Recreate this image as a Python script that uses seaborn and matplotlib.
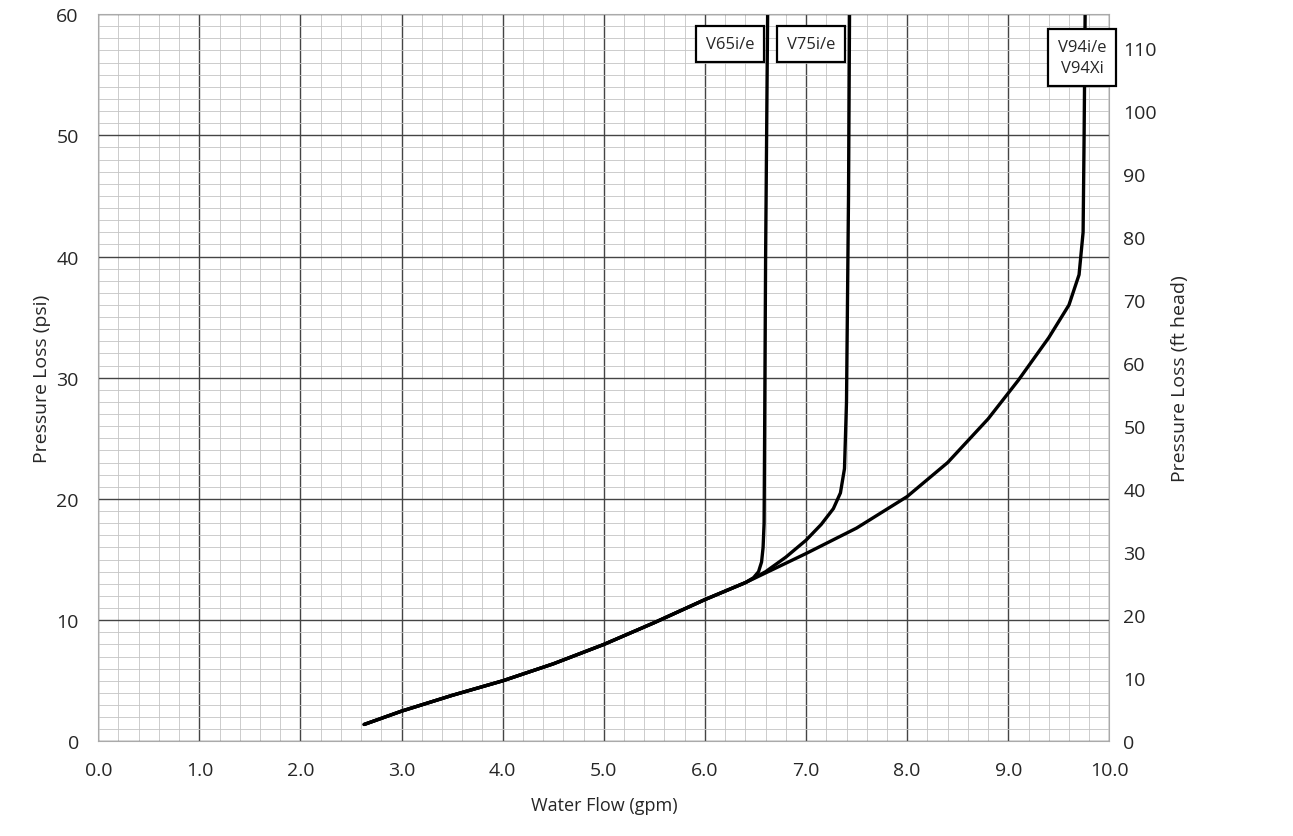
import numpy as np
import pandas as pd
import matplotlib
matplotlib.use("Agg")
import matplotlib.pyplot as plt
import seaborn as sns
from matplotlib.ticker import MultipleLocator

# shared low-flow part of all curves
common_x = [2.63, 3.0, 3.5, 4.0, 4.5, 5.0, 5.5, 6.0, 6.2, 6.4]
common_y = [1.4, 2.5, 3.8, 5.0, 6.4, 8.0, 9.8, 11.7, 12.4, 13.1]

v65_x = [6.48, 6.53, 6.56, 6.575, 6.585, 6.59, 6.60, 6.62]
v65_y = [13.5, 14.0, 14.8, 16.0, 18.0, 25.0, 40.0, 60.0]

v75_x = [6.6, 6.8, 7.0, 7.15, 7.27, 7.34, 7.38, 7.40, 7.42, 7.43]
v75_y = [14.0, 15.2, 16.6, 17.9, 19.2, 20.5, 22.5, 28.0, 45.0, 60.0]

v94_x = [6.7, 7.0, 7.5, 8.0, 8.4, 8.8, 9.1, 9.4, 9.6, 9.7, 9.74, 9.75, 9.76]
v94_y = [14.3, 15.5, 17.6, 20.2, 23.0, 26.6, 29.8, 33.3, 36.0, 38.5, 42.0, 50.0, 60.0]

labels = ["V65i/e", "V75i/e", "V94i/e\nV94Xi"]
label_x = [6.25, 7.05, 9.73]

rows = []
for name, xs, ys in [("V65", v65_x, v65_y), ("V75", v75_x, v75_y), ("V94", v94_x, v94_y)]:
    for a, b in zip(common_x + xs, common_y + ys):
        rows.append((name, a, b))
df = pd.DataFrame(rows, columns=["model", "flow", "psi"])

sns.set_style("white")
plt.rcParams['font.family'] = ['Open Sans', 'DejaVu Sans']

fig = plt.figure(figsize=(12.93, 8.37), dpi=100)
ax = fig.add_axes([0.076, 0.113, 0.782, 0.869])
sns.lineplot(data=df, x="flow", y="psi", units="model", estimator=None, sort=False,
             color="black", lw=2.4, ax=ax, legend=False)

ax.set_xlim(0, 10)
ax.set_ylim(0, 60)
ax.xaxis.set_major_locator(MultipleLocator(1))
ax.xaxis.set_minor_locator(MultipleLocator(0.2))
ax.yaxis.set_major_locator(MultipleLocator(10))
ax.yaxis.set_minor_locator(MultipleLocator(1))
ax.set_xticks(np.arange(0, 10.01, 1))
ax.set_xticklabels([f"{v:.1f}" for v in np.arange(0, 10.01, 1)])
ax.grid(which="major", color="#444444", lw=1.0)
ax.grid(which="minor", color="#c4c4c4", lw=0.6)
ax.set_axisbelow(True)
ax.tick_params(which="both", length=0, labelsize=14, pad=14)
for s in ax.spines.values():
    s.set_color("#aaaaaa")
ax.set_xlabel("Water Flow (gpm)", fontsize=13, labelpad=12)
ax.set_ylabel("Pressure Loss (psi)", fontsize=14)

ax2 = ax.twinx()
ax2.set_ylim(0, 115.3)
ax2.yaxis.set_major_locator(MultipleLocator(10))
ax2.tick_params(length=0, labelsize=14, pad=10)
for s in ax2.spines.values():
    s.set_visible(False)
ax2.set_ylabel("Pressure Loss (ft head)", fontsize=14, labelpad=10)

box = dict(boxstyle="square,pad=0.6", fc="white", ec="black", lw=1.6)
for t, lx in zip(labels, label_x):
    ax.text(lx, 57.5 if "\n" not in t else 56.4, t, ha="center", va="center",
            fontsize=12, bbox=box, zorder=5, linespacing=1.4)

fig.savefig("out.png", dpi=100)
